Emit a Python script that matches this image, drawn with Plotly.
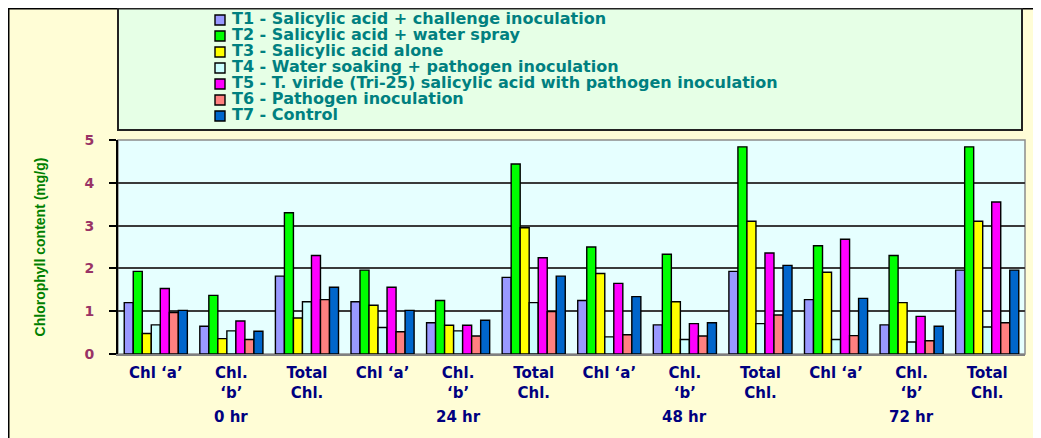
import plotly.graph_objects as go

# ---------------- data ----------------
treatments = [
    "T1 - Salicylic acid + challenge inoculation",
    "T2 - Salicylic acid + water spray",
    "T3 - Salicylic acid alone",
    "T4 - Water soaking + pathogen inoculation",
    "T5 - T. viride (Tri-25) salicylic acid with pathogen inoculation",
    "T6 - Pathogen inoculation",
    "T7 - Control",
]
colors = ["#9999FF", "#00FF00", "#FFFF00", "#CCFFFF", "#FF00FF", "#FF8080", "#0066CC"]

hours = ["0 hr", "24 hr", "48 hr", "72 hr"]
pigments = ["Chl \u2018a\u2019", "Chl.<br>\u2018b\u2019", "Total<br>Chl."]

t1 = [1.20, 0.65, 1.82, 1.22, 0.73, 1.79, 1.25, 0.68, 1.93, 1.27, 0.68, 1.96]
t2 = [1.93, 1.37, 3.30, 1.96, 1.25, 4.44, 2.50, 2.33, 4.84, 2.53, 2.30, 4.84]
t3 = [0.48, 0.36, 0.84, 1.14, 0.67, 2.95, 1.88, 1.22, 3.10, 1.91, 1.20, 3.10]
t4 = [0.68, 0.54, 1.22, 0.62, 0.54, 1.20, 0.40, 0.34, 0.71, 0.34, 0.28, 0.63]
t5 = [1.53, 0.77, 2.30, 1.56, 0.67, 2.25, 1.65, 0.71, 2.36, 2.68, 0.88, 3.55]
t6 = [0.97, 0.34, 1.27, 0.52, 0.42, 0.99, 0.45, 0.42, 0.91, 0.43, 0.31, 0.73]
t7 = [1.02, 0.53, 1.56, 1.02, 0.79, 1.82, 1.34, 0.73, 2.07, 1.30, 0.65, 1.96]
series = [t1, t2, t3, t4, t5, t6, t7]

y_ticks = [0, 1, 2, 3, 4, 5]
y_title = "Chlorophyll content (mg/g)"

# ---------------- figure ----------------
# unique category keys (hour | pigment); shown with the pigment label only
categories = [f"{h}|{i}" for h in hours for i in range(len(pigments))]
tick_text = [p for _ in hours for p in pigments]
hour_anchor = [f"{h}|1" for h in hours]   # hour label sits under the middle pigment

OFF = 8                      # page offset of the plot div (body margin)
W, H = 1041 - OFF, 438 - OFF
ML, MR, MT, MB = 110, 16, 0, 84
PW, PH = W - ML - MR, H - MT - MB


def px_x(p):
    """page pixel x -> paper fraction"""
    return (p - OFF - ML) / PW


def px_y(p):
    """page pixel y -> paper fraction"""
    return (PH - (p - OFF - MT)) / PH


wide_font = "DejaVu Sans, Verdana, sans-serif"
navy_font = dict(family=wide_font, size=15, color="#000080", weight="bold")

fig = go.Figure()
for name, vals, col in zip(treatments, series, colors):
    fig.add_trace(go.Bar(
        x=categories, y=vals, name=name,
        marker=dict(color=col, line=dict(color="#000000", width=1.4)),
        showlegend=False,
    ))

# custom legend (swatches + labels) drawn on an overlay axis
rows = list(range(len(treatments)))[::-1]
fig.add_trace(go.Scatter(
    x=[0] * len(treatments), y=rows, mode="markers",
    marker=dict(symbol="square", size=10, color=colors,
                line=dict(color="#000000", width=1.4)),
    xaxis="x2", yaxis="y2", showlegend=False, cliponaxis=False,
    hoverinfo="skip",
))
fig.add_trace(go.Scatter(
    x=[(232 - 220) / PW] * len(treatments), y=rows, mode="text",
    text=treatments, textposition="middle right",
    textfont=dict(family=wide_font, size=16, color="#008080", weight="bold"),
    xaxis="x2", yaxis="y2", showlegend=False, cliponaxis=False,
    hoverinfo="skip",
))

annotations = [
    dict(text=h, x=a, xref="x", y=px_y(417), yref="paper",
         showarrow=False, xanchor="center", yanchor="middle", font=navy_font)
    for h, a in zip(hours, hour_anchor)
]

fig.update_layout(
    width=W, height=H,
    margin=dict(l=ML, r=MR, t=MT, b=MB, pad=0, autoexpand=False),
    paper_bgcolor="#FFFFFF",
    plot_bgcolor="rgba(0,0,0,0)",
    barmode="group", bargap=0.165, bargroupgap=0,
    showlegend=False,
    xaxis=dict(
        type="category", automargin=False,
        tickvals=categories, ticktext=tick_text,
        tickfont=navy_font,
        showline=True, linecolor="#808080", linewidth=2,
        showgrid=False, ticks="",
        ticklabelstandoff=4,
        domain=[0, 1],
    ),
    yaxis=dict(
        domain=[0, px_y(140)], automargin=False,
        range=[0, 5], tickvals=y_ticks,
        tickfont=dict(family=wide_font, size=14, color="#993366", weight="bold"),
        ticks="outside", ticklen=7, tickwidth=1.5, tickcolor="#000000",
        ticklabelstandoff=12,
        showline=True, linecolor="#000000", linewidth=2,
        showgrid=True, gridcolor="#3a3a3a", gridwidth=1.5,
        zeroline=False,
        title=dict(text=y_title, standoff=36,
                   font=dict(family="Liberation Sans, Arial, sans-serif", size=14,
                             color="#008000", weight="bold")),
    ),
    xaxis2=dict(domain=[0, 1], range=[-px_x(220), 1 - px_x(220)],
                visible=False, anchor="y2", fixedrange=True, automargin=False),
    yaxis2=dict(domain=[px_y(130), px_y(8)], range=[-0.875, 6.75],
                visible=False, anchor="x2", fixedrange=True, automargin=False),
    annotations=annotations,
    shapes=[
        # outer yellow chart area with black frame
        dict(type="rect", xref="paper", yref="paper",
             x0=px_x(8.5), x1=px_x(1080), y0=px_y(480), y1=px_y(8.5),
             fillcolor="#FFFDD6", line=dict(color="#000000", width=2), layer="below"),
        # legend box
        dict(type="rect", xref="paper", yref="paper",
             x0=0, x1=px_x(1022), y0=px_y(130), y1=px_y(8.5),
             fillcolor="#E6FFE6", line=dict(color="#222222", width=2), layer="below"),
        # plot area background
        dict(type="rect", xref="x domain", yref="y domain",
             x0=0, x1=1, y0=0, y1=1,
             fillcolor="#E6FFFF", line=dict(color="#8c8c8c", width=1.5), layer="below"),
    ],
)

fig.write_html("out.html")
